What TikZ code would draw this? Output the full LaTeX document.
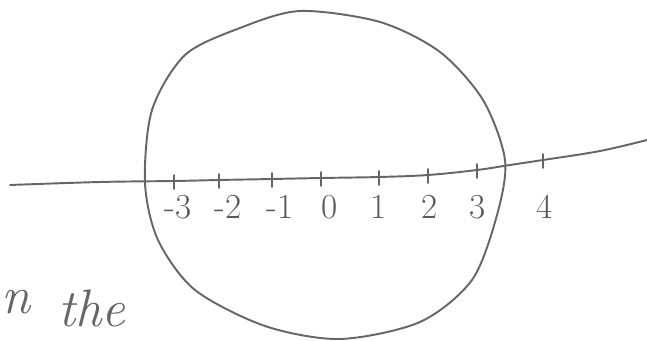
\documentclass[tikz,border=0pt]{standalone}
\usepackage{xcolor}

\begin{document}
\begin{tikzpicture}[
    x=0.02cm, y=-0.02cm,
    pencil/.style={draw=black!60, line width=1.1pt, line cap=round, line join=round},
    numlabel/.style={text=black!65, font=\fontsize{20}{22}\selectfont, inner sep=0pt},
    word/.style={text=black!60, font=\fontsize{30}{32}\selectfont\itshape, inner sep=0pt}
]

    % Frame
    \useasboundingbox (0,0) rectangle (647,341);

    % Circle (hand drawn)
    \draw[pencil] plot[smooth cycle] coordinates {
        (300,11) (380,22) (440,52) (483,100) (505,160)
        (497,215) (472,280) (420,322) (340,339) (265,326)
        (195,290) (158,240) (145,183) (152,110) (185,55) (240,28)};

    % Number line
    \coordinate (start) at (10,185);
    \coordinate (stop)  at (647,140);
    \draw[pencil] plot[smooth, tension=0.6] coordinates {
        (start) (100,182) (174,181) (219,180) (272,179) (321,178)
        (379,177) (428,175) (477,170) (510,165) (543,160) (600,151) (stop)};

    % Ticks and labels
    \foreach \px/\py/\lx/\num/\name in {
        174/181/178/-3/m3, 219/180/228/-2/m2, 272/179/280/-1/m1,
        321/178/330/0/z, 379/177/379/1/p1, 428/175/430/2/p2,
        477/170/478/3/p3, 543/160/545/4/p4}{
        \coordinate (t\name) at (\px,\py);
        \draw[pencil] ([yshift=0.12cm]t\name) -- ([yshift=-0.16cm]t\name);
        \node[numlabel] (l\name) at (\lx,207) {\num};
    }

    % Words
    \node[word, anchor=west] (wn) at (1,302) {n};
    \node[word] (wthe) at (92,308) {the};

\end{tikzpicture}
\end{document}
